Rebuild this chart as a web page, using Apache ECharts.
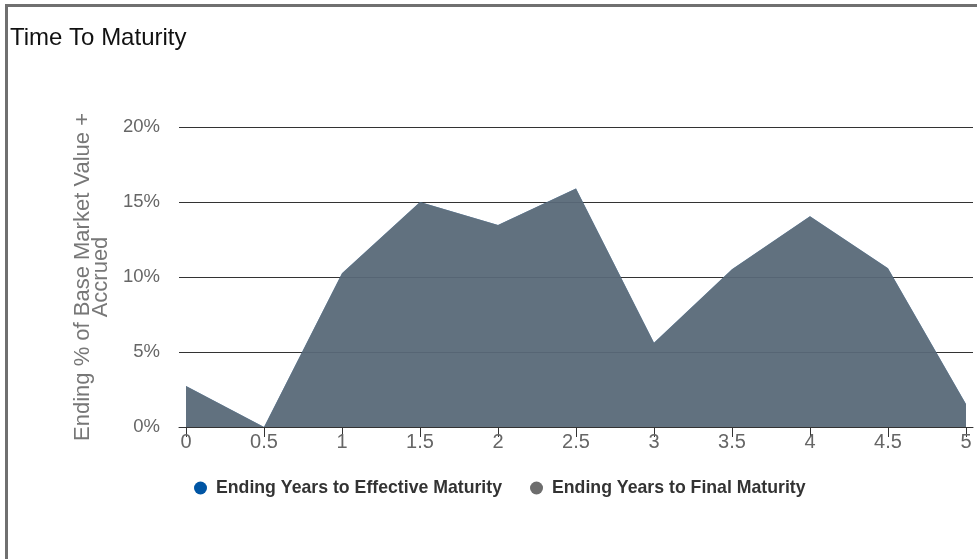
<!DOCTYPE html>
<html>
<head>
<meta charset="utf-8">
<script src="https://cdn.jsdelivr.net/npm/echarts@6/dist/echarts.min.js"></script>
<style>
html,body{margin:0;padding:0;background:#fff;overflow:hidden;}
#chart{width:977px;height:559px;}
</style>
</head>
<body>
<div id="chart"></div>
<script>
// Data
const yearsToMaturity = [0, 0.5, 1, 1.5, 2, 2.5, 3, 3.5, 4, 4.5, 5];
const effectiveMaturityPct = [2.73, 0, 10.25, 15.0, 13.47, 15.9, 5.62, 10.51, 14.05, 10.58, 1.53];
const finalMaturityPct = [2.73, 0, 10.25, 15.0, 13.47, 15.9, 5.62, 10.51, 14.05, 10.58, 1.53];
const xTickValues = [0, 0.5, 1, 1.5, 2, 2.5, 3, 3.5, 4, 4.5, 5];
const yTicks = [0, 5, 10, 15, 20];
const seriesNames = ['Ending Years to Effective Maturity', 'Ending Years to Final Maturity'];

const chart = echarts.init(document.getElementById('chart'), null, {renderer: 'canvas'});
const toPairs = (xs, ys) => xs.map((x, i) => [x, ys[i]]);

const option = {
  animation: false,
  backgroundColor: '#fff',
  title: {
    text: 'Time To Maturity',
    left: 10, top: 26, padding: 0,
    textStyle: {fontFamily: 'Liberation Sans, Arial, sans-serif', fontSize: 24, fontWeight: 'normal', color: '#111'}
  },
  graphic: [{
    type: 'rect', silent: true, z: 100,
    shape: {x: 6.5, y: 5.5, width: 1200, height: 800},
    style: {fill: 'none', stroke: '#707070', lineWidth: 3}
  }],
  legend: {
    data: seriesNames,
    left: 194, top: 479, padding: 0,
    icon: 'circle', itemWidth: 13, itemHeight: 13, itemGap: 28,
    textStyle: {fontFamily: 'Liberation Sans, Arial, sans-serif', fontSize: 17.7, fontWeight: 'bold', color: '#333', padding: [0, 0, 0, 4]}
  },
  grid: {left: 179, right: 4, top: 127, bottom: 132, containLabel: false},
  xAxis: {
    type: 'value', min: -0.045, max: 5.045,
    axisLine: {show: true, lineStyle: {color: '#333', width: 1}},
    axisTick: {show: true, length: 10, customValues: xTickValues, lineStyle: {color: '#333'}},
    axisLabel: {customValues: xTickValues, margin: 5, fontFamily: 'Liberation Sans, Arial, sans-serif', fontSize: 20, color: '#666'},
    splitLine: {show: false}
  },
  yAxis: {
    type: 'value', min: yTicks[0], max: yTicks[yTicks.length - 1], interval: 5,
    name: 'Ending % of Base Market Value +\nAccrued',
    nameLocation: 'middle', nameGap: 57,
    nameTextStyle: {fontFamily: 'Liberation Sans, Arial, sans-serif', fontSize: 22, color: '#777', lineHeight: 18},
    axisLine: {show: false}, axisTick: {show: false},
    axisLabel: {margin: 19, formatter: '{value}%', fontFamily: 'Liberation Sans, Arial, sans-serif', fontSize: 18.5, color: '#666'},
    splitLine: {show: true, lineStyle: {color: '#333', width: 1}}
  },
  series: [
    {
      name: seriesNames[0], type: 'line', data: toPairs(yearsToMaturity, effectiveMaturityPct),
      color: '#0055a4', showSymbol: false, symbol: 'none',
      lineStyle: {width: 0, opacity: 0},
      areaStyle: {color: '#0055a4', opacity: 0.77}
    },
    {
      name: seriesNames[1], type: 'line', data: toPairs(yearsToMaturity, finalMaturityPct),
      color: '#6d6d6d', showSymbol: false, symbol: 'none',
      lineStyle: {width: 0, opacity: 0},
      areaStyle: {color: '#6d6d6d', opacity: 0.77}
    }
  ]
};
chart.setOption(option);
</script>
</body>
</html>
